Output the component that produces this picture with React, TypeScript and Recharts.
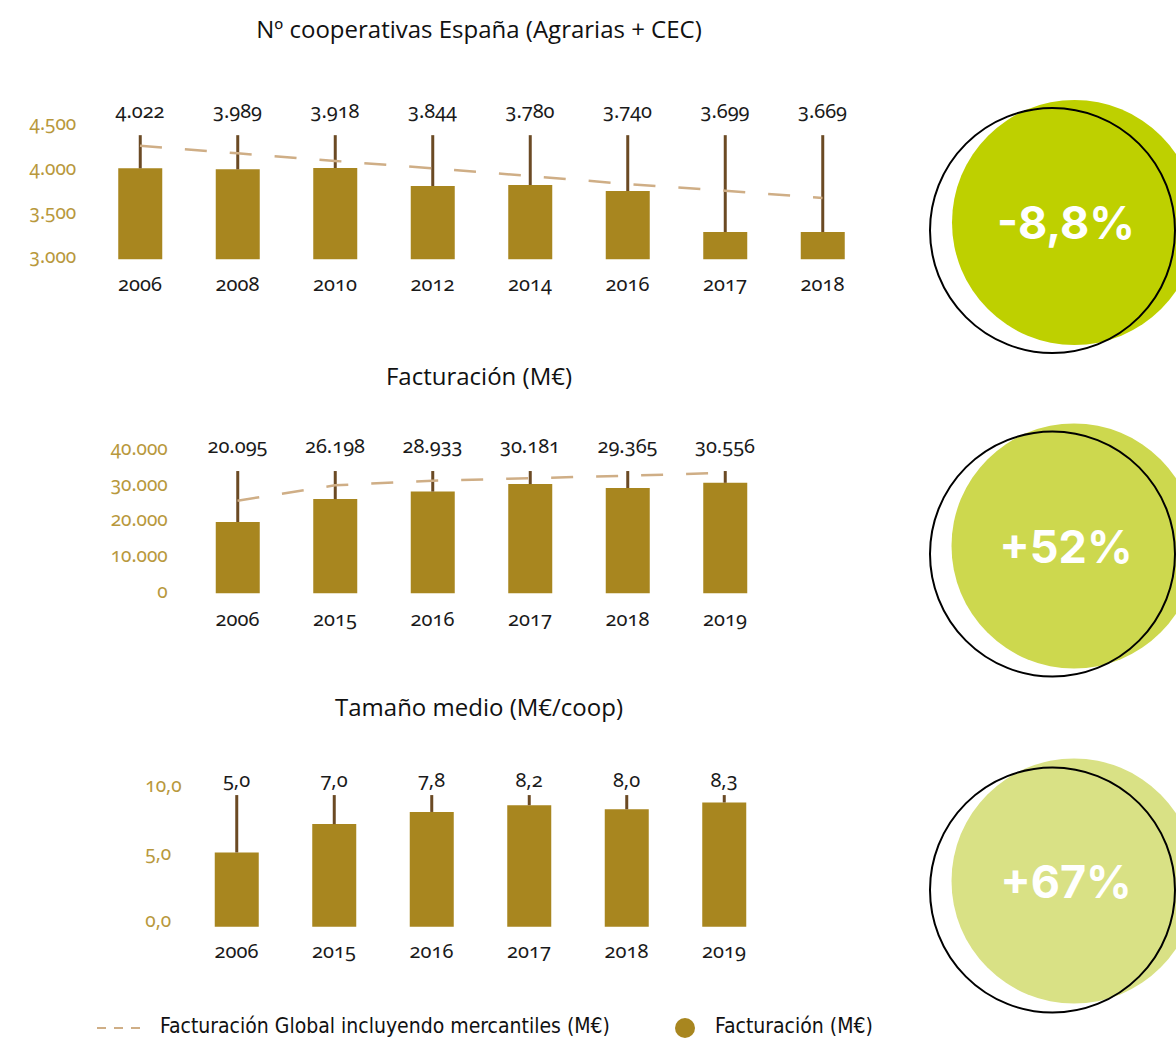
import { XAxis, YAxis, Bar, Line, ErrorBar, LabelList, ComposedChart } from "recharts";

// --- Nº cooperativas ---
const years1 = ["2006", "2008", "2010", "2012", "2014", "2016", "2017", "2018"];
const coops = [4026, 4015, 4030, 3827, 3838, 3770, 3308, 3308];
const coopLabels = ["4.022", "3.989", "3.918", "3.844", "3.780", "3.740", "3.699", "3.669"];
const coopTrend = [4281, 4195, 4110, 4025, 3939, 3849, 3774, 3691];
const coopTicks = [3000, 3500, 4000, 4500];
const coopTop = 4400;

// --- Facturación ---
const years2 = ["2006", "2015", "2016", "2017", "2018", "2019"];
const turnover = [19950, 26350, 28450, 30550, 29450, 30900];
const turnoverLabels = ["20.095", "26.198", "28.933", "30.181", "29.365", "30.556"];
const turnoverTrend = [25900, 30200, 31500, 32200, 32900, 33700];
const turnoverTicks = [0, 10000, 20000, 30000, 40000];
const turnoverTop = 34200;

// --- Tamaño medio ---
const years3 = ["2006", "2015", "2016", "2017", "2018", "2019"];
const avgSize = [5.5, 7.6, 8.5, 9.0, 8.7, 9.2];
const avgLabels = ["5,0", "7,0", "7,8", "8,2", "8,0", "8,3"];
const avgTicks = [0, 5, 10];
const avgTop = 9.75;

const GOLD = "#a8861f";
const TICK_GOLD = "#b8983c";
const WHISKER = "#6b4a24";
const DASH = "#cfae86";
const NUM_FONT = "'Noto Sans', sans-serif";

const thousands = (v: number) => v.toLocaleString("de-DE");
const oneDecimal = (v: number) => v.toFixed(1).replace(".", ",");

const buildRows = (years: string[], vals: number[], labels: string[], top: number, trend?: number[]) =>
  years.map((y, i) => ({
    year: y,
    value: vals[i],
    err: [0, top - vals[i]],
    top,
    label: labels[i],
    trend: trend ? trend[i] : undefined,
  }));

const YTick = ({ x, y, payload, fmt, anchor, dx, dy }: any) => (
  <text
    x={x + dx}
    y={y + dy}
    textAnchor={anchor}
    dominantBaseline="central"
    fill={TICK_GOLD}
    style={{ fontFamily: NUM_FONT, fontSize: 19, fontVariantNumeric: "oldstyle-nums" }}
  >
    {fmt(payload.value)}
  </text>
);

const XTick = ({ x, y, payload, dy }: any) => (
  <text
    x={x}
    y={y + dy}
    textAnchor="middle"
    dominantBaseline="central"
    fill="#1a1a1a"
    style={{ fontFamily: NUM_FONT, fontSize: 20, fontVariantNumeric: "oldstyle-nums" }}
  >
    {payload.value}
  </text>
);

const topLabel = (off: number) => (p: any) => (
  <text
    x={p.x}
    y={p.y - off}
    textAnchor="middle"
    dominantBaseline="central"
    fill="#1a1a1a"
    style={{ fontFamily: NUM_FONT, fontSize: 20, fontVariantNumeric: "oldstyle-nums" }}
  >
    {p.value}
  </text>
);

interface PanelProps {
  top: number;
  title: string;
  titleTop: number;
  rows: any[];
  domain: [number, number];
  ticks: number[];
  fmt: (v: number) => string;
  margin: { top: number; right: number; bottom: number; left: number };
  yTick: { anchor: string; dx: number; dy: number };
  xDy: number;
  labelOff: number;
  showTrend: boolean;
}

const Panel = (p: PanelProps) => (
  <>
    <div
      style={{
        position: "absolute",
        left: 0,
        top: p.titleTop,
        width: 958,
        textAlign: "center",
        fontFamily: "'Open Sans', sans-serif",
        fontSize: 24,
        color: "#111",
      }}
    >
      {p.title}
    </div>
    <div style={{ position: "absolute", left: 0, top: p.top }}>
      <ComposedChart width={900} height={320} data={p.rows} margin={p.margin} barSize={44}>
        <XAxis
          dataKey="year"
          axisLine={false}
          tickLine={false}
          tickSize={0}
          height={30}
          interval={0}
          tick={<XTick dy={p.xDy} />}
        />
        <YAxis
          width={60}
          domain={p.domain}
          ticks={p.ticks}
          axisLine={false}
          tickLine={false}
          tickSize={0}
          interval={0}
          tick={<YTick fmt={p.fmt} anchor={p.yTick.anchor} dx={p.yTick.dx} dy={p.yTick.dy} />}
        />
        <Bar dataKey="value" fill={GOLD} isAnimationActive={false}>
          <ErrorBar dataKey="err" width={0} stroke={WHISKER} strokeWidth={3} direction="y" isAnimationActive={false} />
        </Bar>
        {p.showTrend && (
          <Line
            dataKey="trend"
            type="linear"
            stroke={DASH}
            strokeWidth={2.5}
            strokeDasharray="22 23"
            dot={false}
            activeDot={false}
            isAnimationActive={false}
          />
        )}
        <Line dataKey="top" stroke="none" dot={false} activeDot={false} isAnimationActive={false}>
          <LabelList dataKey="label" content={topLabel(p.labelOff)} />
        </Line>
      </ComposedChart>
    </div>
  </>
);

const Badge = ({ fillX, fillY, ringX, ringY, color, text }: any) => (
  <>
    <circle cx={fillX} cy={fillY} r={122.5} fill={color} />
    <circle cx={ringX} cy={ringY} r={122.5} fill="none" stroke="#000" strokeWidth={2} />
    <text
      x={1066}
      y={fillY}
      textAnchor="middle"
      dominantBaseline="central"
      fill="#fff"
      style={{ fontFamily: "Inter, sans-serif", fontWeight: 700, fontSize: 45 }}
    >
      {text}
    </text>
  </>
);

export default function App() {
  return (
    <div style={{ position: "absolute", left: 0, top: 0, width: 1176, height: 1040, background: "#fff", overflow: "hidden" }}>
      <svg width={1176} height={1040} style={{ position: "absolute", left: 0, top: 0 }}>
        <Badge fillX={1074.5} fillY={222.5} ringX={1052.5} ringY={230.5} color="#bed000" text="-8,8%" />
        <Badge fillX={1074} fillY={546} ringX={1052.5} ringY={554} color="#cdd84e" text="+52%" />
        <Badge fillX={1074} fillY={881} ringX={1052.5} ringY={890} color="#d9e185" text="+67%" />
      </svg>

      <Panel
        top={0}
        title="Nº cooperativas España (Agrarias + CEC)"
        titleTop={12}
        rows={buildRows(years1, coops, coopLabels, coopTop, coopTrend)}
        domain={[3000, 4500]}
        ticks={coopTicks}
        fmt={thousands}
        margin={{ top: 126.3, right: 28.75, bottom: 30.7, left: 31.25 }}
        yTick={{ anchor: "end", dx: -13, dy: -3 }}
        xDy={22}
        labelOff={25}
        showTrend
      />
      <Panel
        top={330}
        title="Facturación (M€)"
        titleTop={359}
        rows={buildRows(years2, turnover, turnoverLabels, turnoverTop, turnoverTrend)}
        domain={[0, 40000]}
        ticks={turnoverTicks}
        fmt={thousands}
        margin={{ top: 120.3, right: 126.25, bottom: 26.7, left: 128.75 }}
        yTick={{ anchor: "end", dx: -19, dy: -2.5 }}
        xDy={23}
        labelOff={25.5}
        showTrend
      />
      <Panel
        top={660}
        title="Tamaño medio (M€/coop)"
        titleTop={690}
        rows={buildRows(years3, avgSize, avgLabels, avgTop)}
        domain={[0, 10]}
        ticks={avgTicks}
        fmt={oneDecimal}
        margin={{ top: 131.7, right: 127.25, bottom: 23.3, left: 127.75 }}
        yTick={{ anchor: "start", dx: -40.5, dy: -6.5 }}
        xDy={21.5}
        labelOff={16}
        showTrend={false}
      />

      <svg width={1176} height={40} style={{ position: "absolute", left: 0, top: 1008 }}>
        <line x1={97} y1={20} x2={141} y2={20} stroke={DASH} strokeWidth={2} strokeDasharray="9 8" />
        <circle cx={685} cy={20} r={10} fill={GOLD} />
      </svg>
      <div
        style={{
          position: "absolute",
          left: 160,
          top: 1014,
          fontFamily: "'DejaVu Sans Condensed', sans-serif",
          fontSize: 21,
          color: "#111",
          whiteSpace: "nowrap",
        }}
      >
        Facturación Global incluyendo mercantiles (M€)
      </div>
      <div
        style={{
          position: "absolute",
          left: 715,
          top: 1014,
          fontFamily: "'DejaVu Sans Condensed', sans-serif",
          fontSize: 21,
          color: "#111",
          whiteSpace: "nowrap",
        }}
      >
        Facturación (M€)
      </div>
    </div>
  );
}
